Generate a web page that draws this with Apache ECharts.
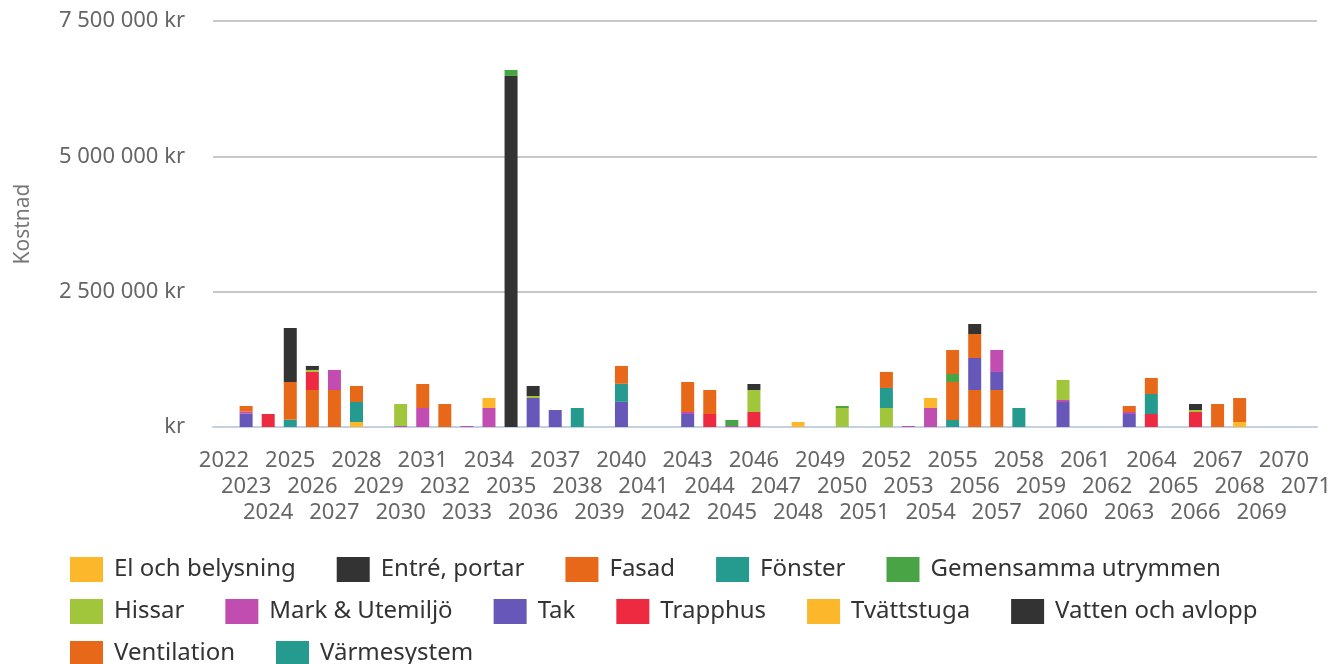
<!DOCTYPE html>
<html>
<head>
<meta charset="utf-8">
<script src="https://cdn.jsdelivr.net/npm/echarts@6/dist/echarts.min.js"></script>
<style>
  html, body { margin: 0; padding: 0; background: #fff; }
  #chart { width: 1334px; height: 664px; }
</style>
</head>
<body>
<div id="chart"></div>
<script>
// år 2022-2071
const years = [];
for (let y = 2022; y <= 2071; y++) years.push(String(y));

const elOchBelysning = [
  0, 0, 0, 0, 0, 0, 0, 0, 0, 0,
  0, 0, 185000, 0, 0, 0, 0, 0, 0, 0,
  0, 0, 0, 0, 0, 0, 0, 0, 0, 0,
  0, 0, 185000, 0, 0, 0, 0, 0, 0, 0,
  0, 0, 0, 0, 0, 0, 0, 0, 0, 0
];
const entrePortar = [
  0, 0, 0, 0, 74000, 0, 0, 0, 0, 0,
  0, 0, 0, 0, 185000, 0, 0, 0, 0, 0,
  0, 0, 0, 0, 111000, 0, 0, 0, 0, 0,
  0, 0, 0, 0, 185000, 0, 0, 0, 0, 0,
  0, 0, 0, 0, 111000, 0, 0, 0, 0, 0
];
const fasad = [
  0, 105000, 0, 0, 0, 0, 296000, 0, 0, 443000,
  425000, 0, 0, 0, 0, 0, 0, 0, 330000, 0,
  0, 554000, 443000, 0, 0, 0, 0, 0, 0, 0,
  296000, 0, 0, 443000, 443000, 0, 0, 0, 0, 0,
  0, 111000, 296000, 0, 0, 425000, 443000, 0, 0, 0
];
const fonster = [
  0, 0, 0, 0, 0, 0, 370000, 0, 0, 0,
  0, 0, 0, 0, 0, 0, 0, 0, 333000, 0,
  0, 0, 0, 0, 0, 0, 0, 0, 0, 0,
  370000, 0, 0, 0, 0, 0, 0, 0, 0, 0,
  0, 0, 370000, 0, 0, 0, 0, 0, 0, 0
];
const gemensamma = [
  0, 0, 0, 0, 0, 0, 0, 0, 0, 0,
  0, 0, 0, 111000, 0, 0, 0, 0, 0, 0,
  0, 0, 0, 111000, 0, 0, 0, 0, 37000, 0,
  0, 0, 0, 148000, 0, 0, 0, 0, 0, 0,
  0, 0, 0, 0, 0, 0, 0, 0, 0, 0
];
const hissar = [
  0, 0, 0, 0, 37000, 0, 0, 0, 406000, 0,
  0, 0, 0, 0, 37000, 0, 0, 0, 0, 0,
  0, 0, 0, 0, 406000, 0, 0, 0, 351000, 0,
  351000, 0, 0, 0, 0, 0, 0, 0, 370000, 0,
  0, 0, 0, 0, 37000, 0, 0, 0, 0, 0
];
const markUtemiljo = [
  0, 37000, 0, 0, 0, 370000, 0, 0, 18000, 351000,
  0, 18000, 351000, 0, 0, 0, 0, 0, 0, 0,
  0, 37000, 0, 18000, 0, 0, 0, 0, 0, 0,
  0, 18000, 351000, 0, 0, 406000, 0, 0, 37000, 0,
  0, 37000, 0, 0, 0, 0, 0, 0, 0, 0
];
const tak = [
  0, 246000, 0, 0, 0, 0, 0, 0, 0, 0,
  0, 0, 0, 0, 536000, 314000, 0, 0, 465000, 0,
  0, 240000, 0, 0, 0, 0, 0, 0, 0, 0,
  0, 0, 0, 0, 591000, 333000, 0, 0, 462000, 0,
  0, 240000, 0, 0, 0, 0, 0, 0, 0, 0
];
const trapphus = [
  0, 0, 240000, 0, 333000, 0, 0, 0, 0, 0,
  0, 0, 0, 0, 0, 0, 0, 0, 0, 0,
  0, 0, 240000, 0, 277000, 0, 0, 0, 0, 0,
  0, 0, 0, 0, 0, 0, 0, 0, 0, 0,
  0, 0, 240000, 0, 277000, 0, 0, 0, 0, 0
];
const tvattstuga = [
  0, 0, 0, 0, 0, 0, 92000, 0, 0, 0,
  0, 0, 0, 0, 0, 0, 0, 0, 0, 0,
  0, 0, 0, 0, 0, 0, 92000, 0, 0, 0,
  0, 0, 0, 0, 0, 0, 0, 0, 0, 0,
  0, 0, 0, 0, 0, 0, 92000, 0, 0, 0
];
const vattenOchAvlopp = [
  0, 0, 0, 998000, 0, 0, 0, 0, 0, 0,
  0, 0, 0, 6485000, 0, 0, 0, 0, 0, 0,
  0, 0, 0, 0, 0, 0, 0, 0, 0, 0,
  0, 0, 0, 0, 0, 0, 0, 0, 0, 0,
  0, 0, 0, 0, 0, 0, 0, 0, 0, 0
];
const ventilation = [
  0, 0, 0, 696000, 684000, 684000, 0, 0, 0, 0,
  0, 0, 0, 0, 0, 0, 0, 0, 0, 0,
  0, 0, 0, 0, 0, 0, 0, 0, 0, 0,
  0, 0, 0, 702000, 684000, 684000, 0, 0, 0, 0,
  0, 0, 0, 0, 0, 0, 0, 0, 0, 0
];
const varmesystem = [
  0, 0, 0, 135000, 0, 0, 0, 0, 0, 0,
  0, 0, 0, 0, 0, 0, 351000, 0, 0, 0,
  0, 0, 0, 0, 0, 0, 0, 0, 0, 0,
  0, 0, 0, 129000, 0, 0, 351000, 0, 0, 0,
  0, 0, 0, 0, 0, 0, 0, 0, 0, 0
];

const yTicks = [0, 2500000, 5000000, 7500000];

// staplas nerifrån och upp i den här ordningen
const stackOrder = [
  ["Värmesystem", varmesystem, "#259A8F"],
  ["Ventilation", ventilation, "#E8681A"],
  ["Vatten och avlopp", vattenOchAvlopp, "#333333"],
  ["Tvättstuga", tvattstuga, "#FDB72A"],
  ["Trapphus", trapphus, "#EE2A40"],
  ["Tak", tak, "#6657B9"],
  ["Mark & Utemiljö", markUtemiljo, "#C04DAF"],
  ["Hissar", hissar, "#A1C53B"],
  ["Gemensamma utrymmen", gemensamma, "#48A444"],
  ["Fönster", fonster, "#259A8F"],
  ["Fasad", fasad, "#E8681A"],
  ["Entré, portar", entrePortar, "#333333"],
  ["El och belysning", elOchBelysning, "#FDB72A"]
];

const legendRows = [
  ["El och belysning", "Entré, portar", "Fasad", "Fönster", "Gemensamma utrymmen"],
  ["Hissar", "Mark & Utemiljö", "Tak", "Trapphus", "Tvättstuga", "Vatten och avlopp"],
  ["Ventilation", "Värmesystem"]
];

const font = "'Noto Sans', sans-serif";

const formatKr = (v) => {
  if (v === 0) return "kr";
  return String(v).replace(/\B(?=(\d{3})+(?!\d))/g, " ") + " kr";
};

const chart = echarts.init(document.getElementById("chart"));

const option = {
  animation: false,
  textStyle: { fontFamily: font },
  grid: {
    left: 213,
    right: 12,
    top: 21,
    bottom: 237
  },
  legend: legendRows.map((row, i) => ({
    data: row,
    left: 70,
    top: 557 + i * 42,
    padding: 0,
    icon: "rect",
    itemWidth: 33,
    itemHeight: 25,
    itemGap: 41,
    textStyle: {
      fontFamily: font,
      fontSize: 24,
      color: "#333",
      padding: [0, 0, 0, 6]
    }
  })),
  xAxis: {
    type: "category",
    data: years,
    axisLine: { lineStyle: { color: "#C5D1E0", width: 2 } },
    axisTick: {
      length: 18,
      interval: 0,
      lineStyle: { color: "#C5D1E0", width: 2 }
    },
    axisLabel: {
      interval: 0,
      margin: 21,
      fontSize: 22,
      lineHeight: 26,
      color: "#666",
      fontFamily: font,
      formatter: (val, idx) => "\n".repeat(idx % 3) + val
    }
  },
  yAxis: {
    type: "value",
    min: yTicks[0],
    max: yTicks[yTicks.length - 1],
    interval: yTicks[1] - yTicks[0],
    name: "Kostnad",
    nameLocation: "middle",
    nameGap: 179,
    nameTextStyle: { fontSize: 21, color: "#777", fontFamily: font },
    axisLine: { show: false },
    axisTick: { show: false },
    splitLine: { lineStyle: { color: "#C8C8C8", width: 2 } },
    axisLabel: {
      margin: 28,
      fontSize: 22,
      color: "#666",
      fontFamily: font,
      formatter: formatKr
    }
  },
  series: stackOrder.map(([name, data, color]) => ({
    name: name,
    type: "bar",
    stack: "kostnad",
    barWidth: 13,
    itemStyle: { color: color },
    data: data
  }))
};

chart.setOption(option);
</script>
</body>
</html>
